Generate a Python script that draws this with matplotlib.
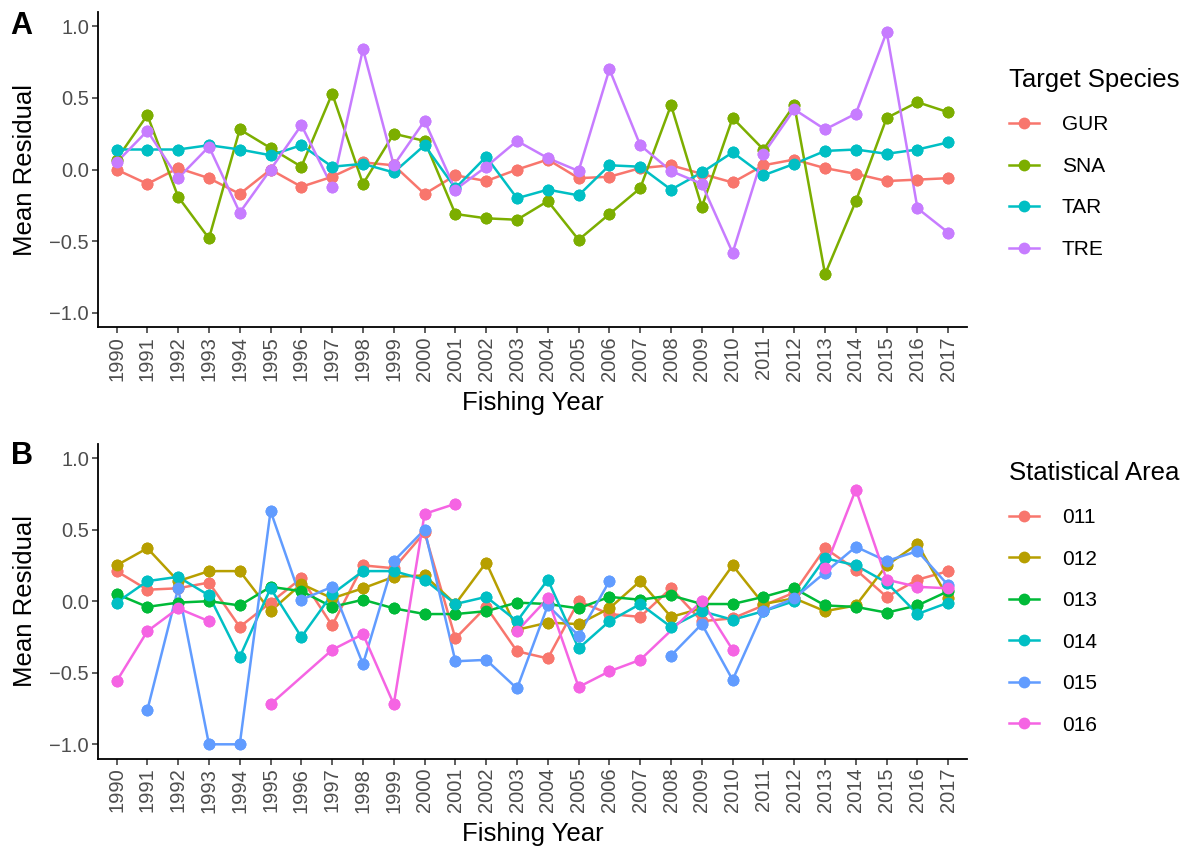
import numpy as np
import matplotlib
matplotlib.use("Agg")
import matplotlib.pyplot as plt

plt.rcParams['font.family'] = ['Liberation Sans', 'DejaVu Sans']

nan = np.nan
years = list(range(1990, 2018))

# Panel A: mean residual by target species
species = ['GUR', 'SNA', 'TAR', 'TRE']
gur = [0.00, -0.10, 0.01, -0.06, -0.17, 0.00, -0.12, -0.05, 0.05, 0.03,
       -0.17, -0.04, -0.08, 0.00, 0.07, -0.06, -0.05, 0.01, 0.03, -0.03,
       -0.09, 0.03, 0.07, 0.01, -0.03, -0.08, -0.07, -0.06]
sna = [0.07, 0.38, -0.19, -0.48, 0.28, 0.15, 0.02, 0.53, -0.10, 0.25,
       0.20, -0.31, -0.34, -0.35, -0.22, -0.49, -0.31, -0.13, 0.45, -0.26,
       0.36, 0.14, 0.45, -0.73, -0.22, 0.36, 0.47, 0.40]
tar = [0.14, 0.14, 0.14, 0.17, 0.14, 0.10, 0.17, 0.02, 0.04, -0.02,
       0.17, -0.13, 0.09, -0.20, -0.14, -0.18, 0.03, 0.02, -0.14, -0.02,
       0.12, -0.04, 0.04, 0.13, 0.14, 0.11, 0.14, 0.19]
tre = [0.05, 0.27, -0.06, 0.16, -0.30, 0.00, 0.31, -0.12, 0.84, 0.03,
       0.34, -0.14, 0.02, 0.20, 0.08, -0.01, 0.70, 0.17, -0.01, -0.10,
       -0.58, 0.11, 0.42, 0.28, 0.39, 0.96, -0.27, -0.44]
species_values = [gur, sna, tar, tre]
species_colors = ['#F8766D', '#7CAE00', '#00BFC4', '#C77CFF']

# Panel B: mean residual by statistical area (nan = no data, line breaks)
areas = ['011', '012', '013', '014', '015', '016']
a011 = [0.21, 0.08, 0.09, 0.13, -0.18, -0.01, 0.16, -0.17, 0.25, 0.23,
        0.48, -0.26, -0.04, -0.35, -0.40, 0.00, -0.09, -0.11, 0.09, -0.14,
        -0.12, -0.03, 0.06, 0.37, 0.22, 0.03, 0.15, 0.21]
a012 = [0.25, 0.37, 0.14, 0.21, 0.21, -0.07, 0.12, 0.02, 0.09, 0.17,
        0.18, -0.02, 0.27, -0.20, -0.15, -0.16, -0.05, 0.14, -0.11, -0.05,
        0.25, -0.02, 0.02, -0.07, -0.03, 0.25, 0.40, 0.02]
a013 = [0.05, -0.04, -0.01, 0.00, -0.03, 0.10, 0.07, -0.04, 0.01, -0.05,
        -0.09, -0.09, -0.07, -0.01, -0.02, -0.05, 0.03, 0.01, 0.04, -0.02,
        -0.02, 0.03, 0.09, -0.03, -0.04, -0.08, -0.03, 0.07]
a014 = [-0.01, 0.14, 0.17, 0.04, -0.39, 0.09, -0.25, 0.05, 0.21, 0.21,
        0.15, -0.02, 0.03, -0.14, 0.15, -0.33, -0.14, -0.02, -0.18, -0.07,
        -0.13, -0.07, 0.00, 0.30, 0.25, 0.13, -0.09, -0.01]
a015 = [nan, -0.76, 0.09, -1.00, -1.00, 0.63, 0.01, 0.10, -0.44, 0.28,
        0.50, -0.42, -0.41, -0.61, -0.03, -0.24, 0.14, nan, -0.38, -0.16,
        -0.55, -0.07, 0.02, 0.20, 0.38, 0.28, 0.35, 0.11]
# area 016 has no rows for 1996 and 2008, so its line runs across those years
years_016 = [1990, 1991, 1992, 1993, 1994, 1995, 1997, 1998, 1999, 2000,
             2001, 2002, 2003, 2004, 2005, 2006, 2007, 2009, 2010, 2011,
             2012, 2013, 2014, 2015, 2016, 2017]
a016 = [-0.56, -0.21, -0.05, -0.14, nan, -0.72, -0.34, -0.23, -0.72, 0.61,
        0.68, nan, -0.21, 0.02, -0.60, -0.49, -0.41, 0.00, -0.34, nan,
        nan, 0.23, 0.78, 0.15, 0.10, 0.09]
area_years = [years, years, years, years, years, years_016]
area_values = [a011, a012, a013, a014, a015, a016]
area_colors = ['#F8766D', '#B79F00', '#00BA38', '#00BFC4', '#619CFF', '#F564E3']


def draw_panel(ax, xs_list, ys_list, labels, colors, legend_title, legend_y):
    for xs, ys, lab, col in zip(xs_list, ys_list, labels, colors):
        ax.plot(xs, ys, color=col, lw=1.8, zorder=2, label=lab,
                marker='o', markersize=8.5, markeredgewidth=0)
    # points sit above every line
    for xs, ys, col in zip(xs_list, ys_list, colors):
        ax.plot(xs, ys, ls='none', marker='o', markersize=8.5,
                markeredgewidth=0, color=col, zorder=3)

    ax.set_xlim(1989.4, 2017.6)
    ax.set_ylim(-1.1, 1.1)
    ax.set_xticks(years)
    ax.set_xticklabels([str(y) for y in years], rotation=90)
    ax.set_yticks([-1.0, -0.5, 0.0, 0.5, 1.0])
    ax.set_yticklabels(['\u22121.0', '\u22120.5', '0.0', '0.5', '1.0'])
    ax.tick_params(axis='both', labelsize=14.5, colors='#333333',
                   labelcolor='#4D4D4D', length=4, width=1.1, pad=2.5)
    for side in ['top', 'right']:
        ax.spines[side].set_visible(False)
    for side in ['left', 'bottom']:
        ax.spines[side].set_linewidth(1.3)
        ax.spines[side].set_color('black')
    ax.set_xlabel('Fishing Year', fontsize=18.5, labelpad=7)
    ax.set_ylabel('Mean Residual', fontsize=18.5, labelpad=9)

    leg = ax.legend(loc='upper left', bbox_to_anchor=(0.8405, legend_y),
                    bbox_transform=fig.transFigure, frameon=False,
                    title=legend_title, title_fontsize=18.5, fontsize=15,
                    handlelength=1.45, handletextpad=1.1, labelspacing=1.08,
                    markerscale=1.0, borderaxespad=0)
    leg._legend_box.align = 'left'
    # a little more room under the legend title
    leg._legend_box.sep = 17
    return leg


fig = plt.figure(figsize=(11.9, 8.5), dpi=100)
axA = fig.add_axes([0.0824, 0.615, 0.730, 0.371])
axB = fig.add_axes([0.0824, 0.1075, 0.730, 0.3705])

draw_panel(axA, [years] * 4, species_values, species, species_colors,
           'Target Species', 0.93)
draw_panel(axB, area_years, area_values, areas, area_colors,
           'Statistical Area', 0.468)

fig.text(0.009, 0.969, 'A', fontsize=22, fontweight='bold', va='center')
fig.text(0.009, 0.463, 'B', fontsize=22, fontweight='bold', va='center')

fig.savefig('out.png', dpi=100)
